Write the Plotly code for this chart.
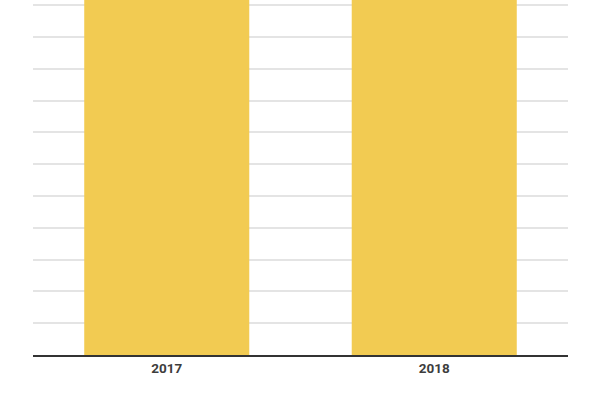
import plotly.graph_objects as go

years = ["2017", "2018"]
values = [14.0, 14.5]  # both bars run past the top of the visible range

fig = go.Figure()
fig.add_trace(go.Bar(
    x=years, y=values,
    marker=dict(color="#F2CB52", line=dict(width=0)),
    hoverinfo="x+y",
))

fig.update_layout(
    width=600, height=400,
    margin=dict(l=33, r=32, t=0, b=45),
    paper_bgcolor="white", plot_bgcolor="white",
    bargap=0.383,
    showlegend=False,
    font=dict(family="Roboto", color="#444444"),
)
fig.update_xaxes(
    type="category",
    showline=True, linecolor="#333333", linewidth=2,
    showgrid=False, ticks="",
    tickfont=dict(family="Roboto", size=13.5, color="#3d3d3d", weight="bold"),
)
fig.update_yaxes(
    range=[0, 11.16], dtick=1,
    showgrid=True, gridcolor="#e4e4e4", gridwidth=1.5,
    showticklabels=False, zeroline=False,
)

# drop the browser's default body margin so the figure sits at the page corner
fig.write_html(
    "out.html",
    config={"displayModeBar": False},
    post_script="document.body.style.margin='0px';",
)
